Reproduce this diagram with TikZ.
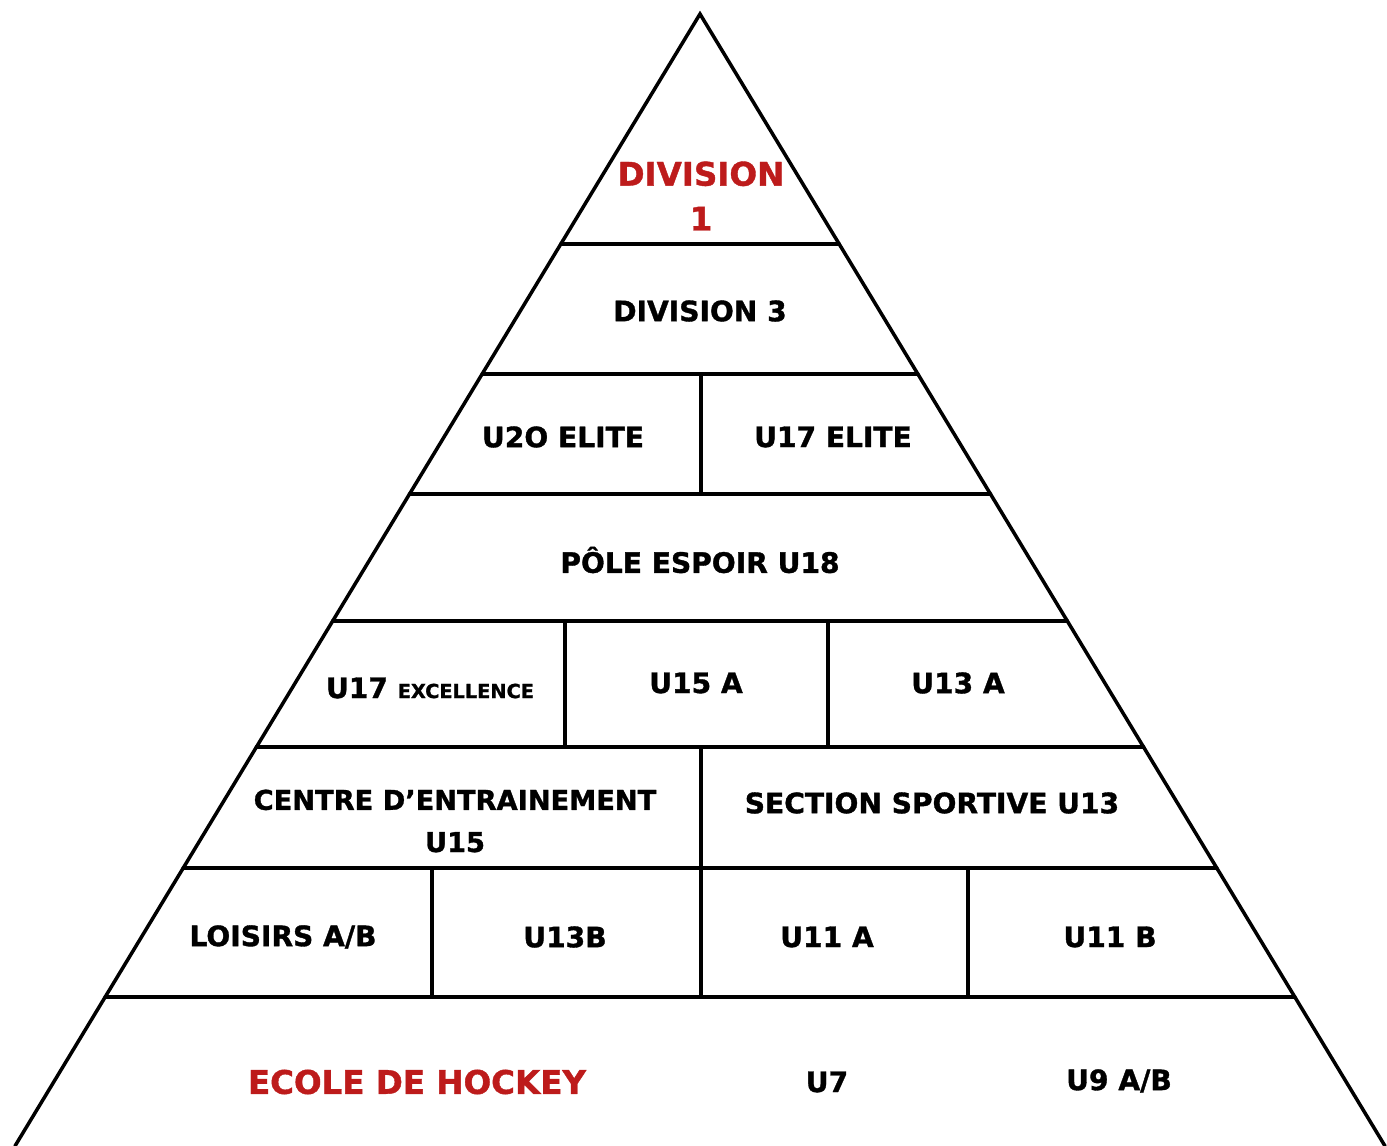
\documentclass[tikz,border=0pt]{standalone}
\usepackage{fontspec}
\setmainfont{DejaVu Sans}[BoldFeatures={FakeBold=1.2}]
\usetikzlibrary{calc}
\definecolor{HockeyRed}{HTML}{BD1B1B}
\tikzset{
  lvl/.style={font=\fontsize{16}{21}\selectfont\bfseries,align=center,inner sep=0pt},
  top/.style={lvl,font=\fontsize{18.5}{25.5}\selectfont\bfseries,text=HockeyRed},
  wall/.style={line width=2pt,line cap=round},
}

\begin{document}
\begin{tikzpicture}[x=0.02cm,y=-0.02cm]
  \useasboundingbox[fill=white] (0,0) rectangle (1387,1146);
  % outline of the pyramid
  \coordinate (apex) at (700,14);
  \coordinate (bl)   at (15,1146);
  \coordinate (br)   at (1385,1146);
  \draw[wall] (bl) -- (apex) -- (br);

  % floors
  \foreach \t in {0.2032,0.3180,0.4240,0.5362,0.6475,0.7544,0.8684}
    \draw[wall] ($(apex)!\t!(bl)$) -- ($(apex)!\t!(br)$);

  % walls inside the floors
  \draw[wall] (701,374) -- (701,494);
  \draw[wall] (565,621) -- (565,747);
  \draw[wall] (828,621) -- (828,747);
  \draw[wall] (701,747) -- (701,868);
  \draw[wall] (432,868) -- (432,997);
  \draw[wall] (701,868) -- (701,997);
  \draw[wall] (968,868) -- (968,997);

  \node[top] (div1)    at (701,196)  {DIVISION\\1};
  \node[lvl] (div3)    at (700,311)  {DIVISION 3};
  \node[lvl] (u20)     at (563,437)  {U2O ELITE};
  \node[lvl] (u17e)    at (833,437)  {U17 ELITE};
  \node[lvl] (pole)    at (700,560)  {PÔLE ESPOIR U18};
  \node[lvl] (u17x)    at (430,688)  {U17 {\fontsize{11}{13}\selectfont EXCELLENCE}};
  \node[lvl] (u15a)    at (696,683)  {U15 A};
  \node[lvl] (u13a)    at (958,683)  {U13 A};
  \node[lvl,font=\fontsize{15.5}{24}\selectfont\bfseries] (centre) at (455,821) {CENTRE D’ENTRAINEMENT\\U15};
  \node[lvl] (section) at (932,803)  {SECTION SPORTIVE U13};
  \node[lvl] (loisirs) at (283,937)  {LOISIRS A/B};
  \node[lvl] (u13b)    at (565,937)  {U13B};
  \node[lvl] (u11a)    at (827,937)  {U11 A};
  \node[lvl] (u11b)    at (1110,937) {U11 B};
  \node[top] (ecole)   at (417,1082) {ECOLE DE HOCKEY};
  \node[lvl] (u7)      at (827,1082) {U7};
  \node[lvl] (u9)      at (1119,1081) {U9 A/B};
\end{tikzpicture}
\end{document}
